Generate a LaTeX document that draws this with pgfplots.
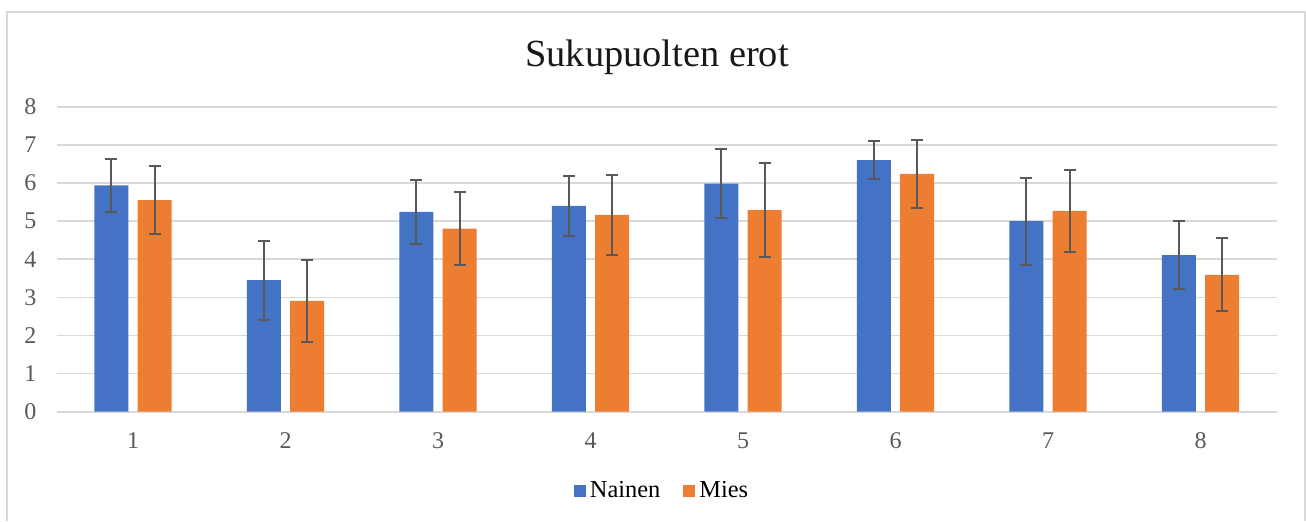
\documentclass[border=0pt]{standalone}
\usepackage{fontspec}
\setmainfont{Liberation Serif}
\usepackage{pgfplots}
\pgfplotsset{compat=1.18}
\definecolor{cblue}{HTML}{4472C4}
\definecolor{corange}{HTML}{ED7D31}
\definecolor{errgray}{HTML}{595959}
\definecolor{gridgray}{HTML}{D9D9D9}
\definecolor{ticktext}{HTML}{595959}
\begin{document}
\begin{tikzpicture}
\path[use as bounding box] (0,0) rectangle (653pt,260.5pt);
% outer chart border
\draw[gridgray, line width=0.8pt] (3.5pt,0pt) -- (3.5pt,254.5pt) -- (652.6pt,254.5pt) -- (652.6pt,0pt);
% title
\node[anchor=base, font=\fontsize{19.2}{22}\selectfont, text=black!90] at (328.5pt,227.2pt) {Sukupuolten erot};
\begin{axis}[
  at={(28.375pt,54.65pt)}, anchor=south west,
  scale only axis, width=610pt, height=152.5pt,
  xmin=0.5, xmax=8.5, ymin=0, ymax=8,
  ybar=4.7pt, bar width=17pt,
  xtick={1,2,3,4,5,6,7,8},
  ytick={0,1,2,3,4,5,6,7,8},
  major tick length=0pt,
  axis line style={draw=none},
  ymajorgrids, grid style={gridgray, line width=0.8pt},
  /pgf/number format/assume math mode=true,
  tick label style={font=\fontsize{12}{14}\selectfont, text=ticktext},
  yticklabel style={anchor=east, inner sep=0pt, xshift=-10pt},
  xticklabel style={anchor=base, inner sep=0pt, yshift=-18.3pt},
  legend style={at={(0.497,-0.26)}, anchor=center, draw=none, fill=none,
    font=\fontsize{12.2}{14}\selectfont, legend columns=2,
    /tikz/every even column/.append style={column sep=9.5pt},
    inner sep=0pt},
  legend image code/.code={\path[#1,draw=none] (0pt,-3pt) rectangle (6pt,3pt);},
]
\addplot[fill=cblue, draw=none,
  error bars/.cd, y dir=both, y explicit,
  error bar style={line width=1pt, errgray, solid},
  error mark options={line width=1pt, errgray, mark size=3pt, rotate=90}] coordinates {
  (1,5.94) +- (0,0.70)
  (2,3.45) +- (0,1.04)
  (3,5.24) +- (0,0.85)
  (4,5.40) +- (0,0.79)
  (5,5.98) +- (0,0.91)
  (6,6.60) +- (0,0.50)
  (7,5.00) +- (0,1.14)
  (8,4.11) +- (0,0.90)
};
\addlegendentry{Nainen}
\addplot[fill=corange, draw=none,
  error bars/.cd, y dir=both, y explicit,
  error bar style={line width=1pt, errgray, solid},
  error mark options={line width=1pt, errgray, mark size=3pt, rotate=90}] coordinates {
  (1,5.55) +- (0,0.885)
  (2,2.91) +- (0,1.07)
  (3,4.80) +- (0,0.96)
  (4,5.16) +- (0,1.05)
  (5,5.29) +- (0,1.23)
  (6,6.24) +- (0,0.89)
  (7,5.27) +- (0,1.08)
  (8,3.59) +- (0,0.96)
};
\addlegendentry{Mies}
\end{axis}
\end{tikzpicture}
\end{document}
